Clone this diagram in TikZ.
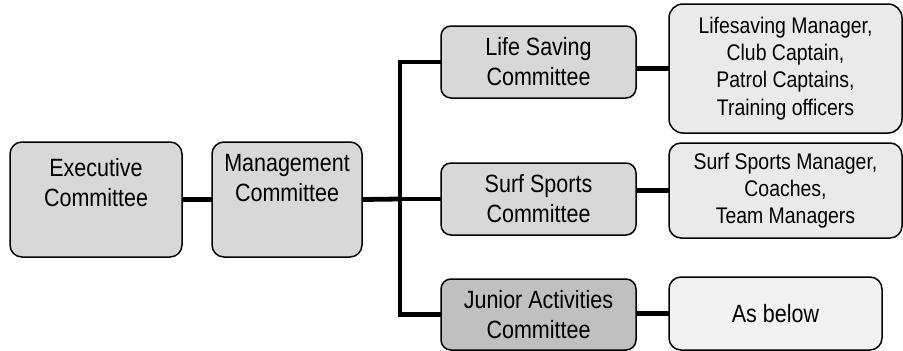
\documentclass[tikz,border=0pt]{standalone}
\usepackage{fontspec}
\setmainfont{Liberation Sans}[FakeStretch=0.86]
\definecolor{mainfill}{HTML}{D8D8D8}
\definecolor{jrfill}{HTML}{C0C0C0}
\definecolor{detfill}{HTML}{EAEAEA}
\definecolor{abfill}{HTML}{F2F2F2}
\tikzset{
  box/.style={draw=black, line width=1.5pt, rounded corners=12pt, fill=mainfill, inner sep=0pt, outer sep=0pt},
  bigtext/.style={font=\fontsize{25}{30}\selectfont, align=center},
  smalltext/.style={font=\fontsize{22.6}{27.3}\selectfont, align=center},
  plain/.style={inner sep=0pt, outer sep=0pt},
  conn/.style={line width=4.8pt, line cap=butt},
}
\begin{document}
\begin{tikzpicture}[x=1pt, y=-1pt]
\useasboundingbox (0,0) rectangle (903,351);
% level 1 and 2
\node[box, minimum width=172pt, minimum height=115pt] (exec) at (96,199.5) {};
\node[plain, bigtext] (exect) at (96,182.5) {Executive\\Committee};
\node[box, minimum width=150pt, minimum height=115pt] (mgmt) at (287,199.5) {};
\node[plain, bigtext] (mgmtt) at (287,177.8) {Management\\Committee};
% committees
\node[box, bigtext, rounded corners=10pt, minimum width=195pt, minimum height=72pt] (ls) at (538.5,62) {Life Saving\\Committee};
\node[box, bigtext, rounded corners=10pt, minimum width=195pt, minimum height=72pt] (ss) at (538.5,199) {Surf Sports\\Committee};
\node[box, bigtext, rounded corners=10pt, fill=jrfill, minimum width=195pt, minimum height=71pt] (jr) at (538.5,314.5) {Junior Activities\\Committee};
% details
\node[box, smalltext, fill=detfill, rounded corners=14pt, minimum width=233pt, minimum height=129pt] (lsd) at (785.5,68.5) {Lifesaving Manager,\\Club Captain,\\Patrol Captains,\\Training officers};
\node[box, smalltext, fill=detfill, minimum width=233pt, minimum height=95pt] (ssd) at (785.5,190.5) {Surf Sports Manager,\\Coaches,\\Team Managers};
\node[box, bigtext, fill=abfill, minimum width=213pt, minimum height=73pt] (ab) at (775.5,313.5) {As below};
% connectors
\coordinate (bus) at (400,199);
\draw[conn] (exec.east) -- (mgmt.west);
\draw[conn] (mgmt.east) -- (bus);
\draw[conn] (ls.west) -| (bus) |- (jr.west);
\draw[conn] (bus) -- (ss.west);
\draw[conn] (lsd.west -| ls.east) -- (lsd.west);
\draw[conn] (ssd.west -| ss.east) -- (ssd.west);
\draw[conn] (ab.west -| jr.east) -- (ab.west);
\end{tikzpicture}
\end{document}
